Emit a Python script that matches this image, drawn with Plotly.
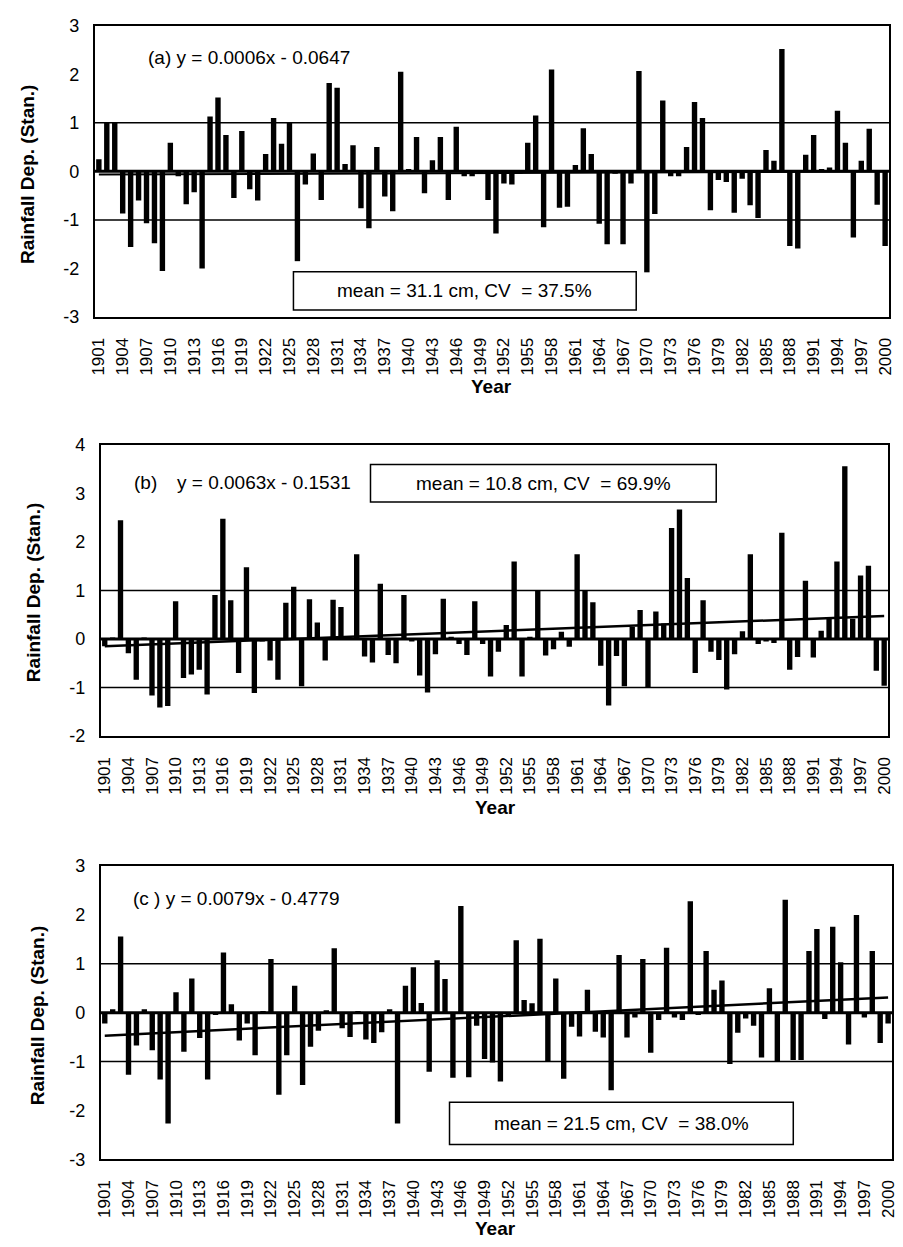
import plotly.graph_objects as go

W, H = 903, 1247

years = list(range(1901, 2001))
tick_years = years[::3]
tick_labels = [str(y) for y in tick_years]

a_vals = [
    0.25, 1.0, 1.0, -0.87, -1.56, -0.6, -1.07, -1.48, -2.05, 0.59,
    -0.1, -0.68, -0.43, -2.0, 1.13, 1.52, 0.75, -0.55, 0.83, -0.37,
    -0.6, 0.36, 1.1, 0.57, 1.0, -1.85, -0.27, 0.37, -0.59, 1.82,
    1.72, 0.15, 0.54, -0.76, -1.17, 0.5, -0.52, -0.82, 2.05, 0.05,
    0.71, -0.45, 0.23, 0.71, -0.59, 0.92, -0.1, -0.1, -0.05, -0.59,
    -1.28, -0.25, -0.27, -0.05, 0.59, 1.15, -1.15, 2.1, -0.75, -0.73,
    0.13, 0.89, 0.36, -1.08, -1.5, -0.05, -1.5, -0.25, 2.07, -2.08,
    -0.88, 1.46, -0.1, -0.1, 0.5, 1.43, 1.1, -0.8, -0.18, -0.22,
    -0.85, -0.15, -0.7, -0.96, 0.44, 0.22, 2.52, -1.54, -1.59, 0.34,
    0.75, 0.05, 0.08, 1.25, 0.59, -1.36, 0.22, 0.88, -0.69, -1.54,
]

b_vals = [
    -0.15, 0.03, 2.45, -0.29, -0.84, 0.03, -1.16, -1.41, -1.38, 0.78,
    -0.8, -0.73, -0.63, -1.14, 0.91, 2.48, 0.8, -0.7, 1.48, -1.11,
    -0.05, -0.44, -0.84, 0.75, 1.08, -0.97, 0.82, 0.34, -0.44, 0.81,
    0.66, 0.05, 1.75, -0.36, -0.48, 1.14, -0.33, -0.5, 0.91, -0.05,
    -0.75, -1.1, -0.31, 0.83, 0.05, -0.1, -0.33, 0.78, -0.1, -0.77,
    -0.26, 0.29, 1.6, -0.77, 0.05, 1.01, -0.34, -0.21, 0.15, -0.16,
    1.75, 1.01, 0.76, -0.55, -1.37, -0.35, -0.97, 0.25, 0.6, -1.0,
    0.57, 0.32, 2.29, 2.67, 1.26, -0.7, 0.8, -0.26, -0.43, -1.04,
    -0.31, 0.16, 1.75, -0.1, -0.05, -0.08, 2.19, -0.63, -0.37, 1.2,
    -0.38, 0.17, 0.42, 1.6, 3.56, 0.42, 1.31, 1.51, -0.65, -0.96,
]

c_vals = [
    -0.22, 0.07, 1.56, -1.27, -0.67, 0.07, -0.77, -1.37, -2.27, 0.42,
    -0.8, 0.7, -0.52, -1.37, -0.05, 1.23, 0.17, -0.57, -0.22, -0.87,
    0.02, 1.1, -1.68, -0.87, 0.55, -1.48, -0.7, -0.37, 0.05, 1.32,
    -0.32, -0.5, 0.02, -0.55, -0.62, -0.4, 0.07, -2.27, 0.55, 0.93,
    0.2, -1.21, 1.07, 0.69, -1.33, 2.18, -1.32, -0.27, -0.95, -1.02,
    -1.41, -0.05, 1.48, 0.26, 0.19, 1.51, -1.0, 0.7, -1.35, -0.29,
    -0.49, 0.47, -0.39, -0.51, -1.59, 1.18, -0.51, -0.1, 1.1, -0.82,
    -0.15, 1.33, -0.1, -0.15, 2.28, -0.05, 1.26, 0.47, 0.66, -1.05,
    -0.41, -0.12, -0.27, -0.92, 0.5, -1.0, 2.31, -0.97, -0.97, 1.26,
    1.71, -0.13, 1.76, 1.03, -0.65, 2.0, -0.1, 1.26, -0.62, -0.22,
]

trend_slope = [0.0006, 0.0063, 0.0079]
trend_intercept = [-0.0647, -0.1531, -0.4779]
eq_texts = ["(a) y = 0.0006x - 0.0647", "y = 0.0063x - 0.1531", "(c ) y = 0.0079x - 0.4779"]
stat_texts = ["mean = 31.1 cm, CV\u00a0 = 37.5%", "mean = 10.8 cm, CV\u00a0 = 69.9%",
              "mean = 21.5 cm, CV\u00a0 = 38.0%"]
y_ranges = [[-3, 3], [-2, 4], [-3, 3]]
series = [a_vals, b_vals, c_vals]

# layout geometry (pixels)
plots = [
    dict(x0=91, x1=895, y0=16, y1=312),
    dict(x0=97, x1=894, y0=442, y1=738),
    dict(x0=97, x1=898, y0=870, y1=1168),
]
eq_pos = [(143, 48), (172, 480), (128, 903)]
box_pos = [(292, 266, 639, 305), (370, 462, 720, 500), (450, 1110, 798, 1153)]
ytitle_pos = [(23, 167), (29, 592), (33, 1022)]
xtitle_pos = [(492, 383), (497, 811), (497, 1238)]

FONT = "Arial, Liberation Sans, Helvetica, sans-serif"


def px(x):
    return x / W


def py(y):
    return 1 - y / H


fig = go.Figure()
layout = dict(
    width=W, height=H,
    margin=dict(l=0, r=0, t=0, b=0),
    paper_bgcolor="white", plot_bgcolor="white",
    showlegend=False, bargap=0.32,
    font=dict(family=FONT, color="black"),
)
shapes = []
annotations = []

for i in range(3):
    sfx = "" if i == 0 else str(i + 1)
    xa, ya = "x" + sfx, "y" + sfx
    vals = series[i]
    fig.add_trace(go.Bar(x=years, y=vals, marker=dict(color="black", line=dict(width=0)),
                         xaxis=xa, yaxis=ya))
    trend = [trend_slope[i] * (k + 1) + trend_intercept[i] for k in range(len(years))]
    fig.add_trace(go.Scatter(x=years, y=trend, mode="lines",
                             line=dict(color="black", width=2.5 if i else 2),
                             xaxis=xa, yaxis=ya))
    p = plots[i]
    lo, hi = y_ranges[i]
    layout["xaxis" + sfx] = dict(
        domain=[px(p["x0"]), px(p["x1"])], anchor=ya,
        range=[1900.5, 2000.5], tickmode="array", tickvals=tick_years, ticktext=tick_labels,
        tickangle=-90, tickfont=dict(size=17, family=FONT, color="black"),
        showline=True, linecolor="black", linewidth=2, mirror=True,
        showgrid=False, zeroline=False, ticks="", ticklabelstandoff=12,
    )
    layout["yaxis" + sfx] = dict(
        domain=[py(p["y1"]), py(p["y0"])], anchor=xa,
        range=[lo, hi], tickmode="array", tickvals=list(range(lo, hi + 1)),
        ticktext=[str(v) for v in range(lo, hi + 1)],
        tickfont=dict(size=18, family=FONT, color="black"),
        showline=True, linecolor="black", linewidth=2, mirror=True,
        showgrid=False, zeroline=False, ticks="", ticklabelstandoff=10,
    )
    for yv, wd in [(1, 1.5), (-1, 1.5), (0, 3)]:
        shapes.append(dict(type="line", xref=xa + " domain", yref=ya, x0=0, x1=1, y0=yv, y1=yv,
                           line=dict(color="black", width=wd), layer="above"))
    bx0, by0, bx1, by1 = box_pos[i]
    shapes.append(dict(type="rect", xref="paper", yref="paper", x0=px(bx0), x1=px(bx1),
                       y0=py(by1), y1=py(by0), line=dict(color="black", width=1.5),
                       fillcolor="white"))
    annotations.append(dict(text=stat_texts[i], xref="paper", yref="paper",
                            x=px((bx0 + bx1) / 2), y=py((by0 + by1) / 2), showarrow=False,
                            xanchor="center", yanchor="middle",
                            font=dict(size=19, family=FONT, color="black")))
    ex, ey = eq_pos[i]
    annotations.append(dict(text=eq_texts[i], xref="paper", yref="paper", x=px(ex), y=py(ey),
                            showarrow=False, xanchor="left", yanchor="middle",
                            font=dict(size=19, family=FONT, color="black")))
    tx, ty = ytitle_pos[i]
    annotations.append(dict(text="<b>Rainfall Dep. (Stan.)</b>", xref="paper", yref="paper",
                            x=px(tx), y=py(ty), showarrow=False, textangle=-90,
                            xanchor="center", yanchor="middle",
                            font=dict(size=19, family=FONT, color="black")))
    qx, qy = xtitle_pos[i]
    annotations.append(dict(text="<b>Year</b>", xref="paper", yref="paper",
                            x=px(qx), y=py(qy), showarrow=False,
                            xanchor="center", yanchor="middle",
                            font=dict(size=19, family=FONT, color="black")))

annotations.append(dict(text="(b)", xref="paper", yref="paper", x=px(129), y=py(480),
                        showarrow=False, xanchor="left", yanchor="middle",
                        font=dict(size=19, family=FONT, color="black")))

layout["shapes"] = shapes
layout["annotations"] = annotations
fig.update_layout(**layout)

fig.write_html("out.html", config={"displayModeBar": False},
               post_script="document.body.style.margin='0';")
